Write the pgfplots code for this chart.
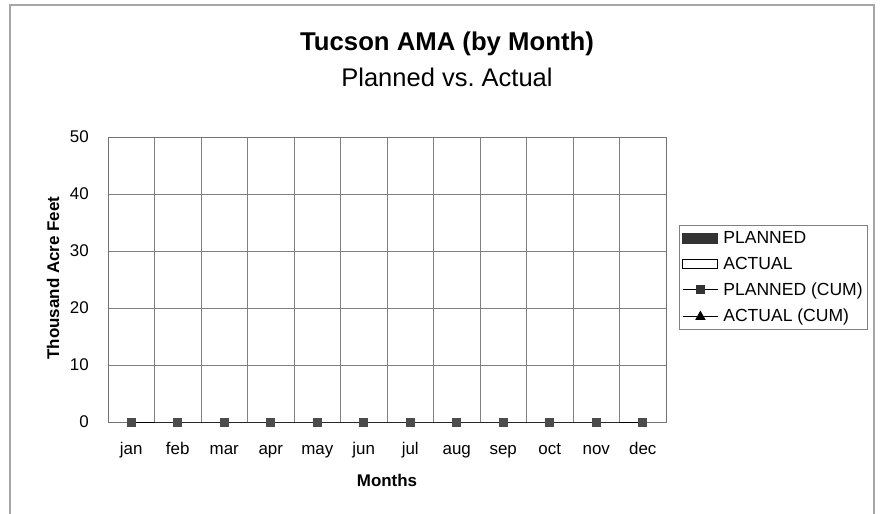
\documentclass[border=0pt]{standalone}
\usepackage{pgfplots}
\pgfplotsset{compat=1.18}
\usepackage{fontspec}
\setmainfont{Liberation Sans}
\begin{document}
\begin{tikzpicture}[x=1bp,y=1bp]
\path[use as bounding box] (0,0) rectangle (880,514);
\draw[black!35, line width=1.5bp] (10,0) -- (10,509) -- (874,509) -- (874,0);
\node[font=\bfseries\fontsize{25.8}{30}\selectfont] at (447,470) {Tucson AMA (by Month)};
\node[font=\fontsize{25.6}{30}\selectfont] at (447,437) {Planned vs.\ Actual};
\begin{axis}[
  at={(108bp,92bp)}, anchor=south west,
  scale only axis, width=558bp, height=285bp,
  xmin=-0.5, xmax=11.5, ymin=0, ymax=50,
  xtick={0,...,11},
  xticklabels={jan,feb,mar,apr,may,jun,jul,aug,sep,oct,nov,dec},
  minor xtick={0.5,1.5,...,10.5},
  ytick={0,10,...,50},
  xminorgrids=true, ymajorgrids=true,
  grid style={black!50, line width=0.9bp},
  minor grid style={black!50, line width=0.9bp},
  axis line style={black!55, line width=0.9bp},
  major tick length=0pt, minor tick length=0pt,
  tick label style={font=\fontsize{17}{20}\selectfont},
  /pgf/number format/assume math mode=true,
  xticklabel style={anchor=base, yshift=-33bp},
  yticklabel style={anchor=east, inner sep=0pt, xshift=-19bp},
  xlabel={\bfseries Months},
  xlabel style={font=\fontsize{17}{20}\selectfont, at={(axis description cs:0.5,-0.2035)}, anchor=center},
  ylabel={\bfseries Thousand Acre Feet},
  ylabel style={font=\fontsize{17}{20}\selectfont, at={(axis description cs:-0.0986,0.505)}, anchor=center},
  clip=false,
  legend style={at={(axis description cs:1.0233,0.6912)}, anchor=north west, draw=black!50, line width=0.9bp,
    font=\fontsize{17.6}{20}\selectfont, cells={anchor=west}, row sep=8bp, inner xsep=3bp, inner ysep=4bp},
  legend cell align=left,
]
\addlegendimage{legend image code/.code={\fill[black!80] (0bp,-5bp) rectangle (35bp,5bp);}}
\addlegendentry{\hspace{3bp}PLANNED}
\addlegendimage{legend image code/.code={\draw[black, line width=0.9bp, fill=white] (0bp,-4.5bp) rectangle (35bp,4.5bp);}}
\addlegendentry{\hspace{3bp}ACTUAL}
\addlegendimage{legend image code/.code={\draw[black, line width=0.9bp] (0bp,0bp) -- (35bp,0bp); \fill[black!80] (13.5bp,-4bp) rectangle (21.5bp,4bp);}}
\addlegendentry{\hspace{3bp}PLANNED (CUM)}
\addlegendimage{legend image code/.code={\draw[black, line width=0.9bp] (0bp,0bp) -- (35bp,0bp); \fill[black] (13bp,-3.5bp) -- (22bp,-3.5bp) -- (17.5bp,4.5bp) -- cycle;}}
\addlegendentry{\hspace{3bp}ACTUAL (CUM)}
\addplot[forget plot, black, line width=0.9bp, mark=square*, mark size=4bp, mark options={fill=black!70, draw=black!70}]
  coordinates {(0,0) (1,0) (2,0) (3,0) (4,0) (5,0) (6,0) (7,0) (8,0) (9,0) (10,0) (11,0)};
\end{axis}
\end{tikzpicture}
\end{document}
